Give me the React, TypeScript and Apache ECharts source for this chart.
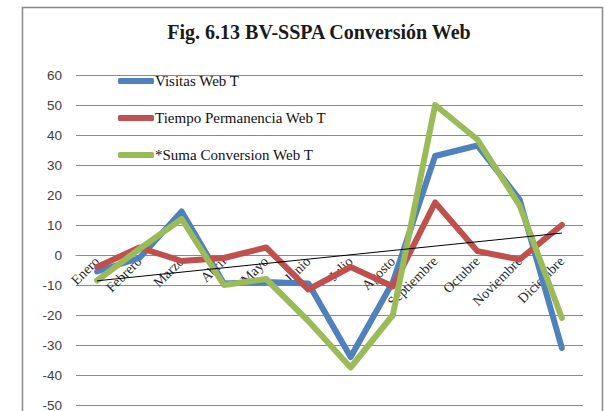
import React, { useEffect, useRef } from "react";
import * as echarts from "echarts";

const months = ["Enero", "Febrero", "Marzo", "Abril", "Mayo", "Junio", "Julio", "Agosto", "Septiembre", "Octubre", "Noviembre", "Diciembre"];
const visitas = [-5.5, -1, 14.5, -9.5, -9, -9.5, -34, -9, 33, 36.5, 18.5, -31];
const tiempo = [-4, 2.5, -2, -1, 2.5, -11.5, -4, -10.5, 17.5, 1.3, -1.5, 10];
const suma = [-8.5, 2, 12, -10, -8, -22, -37.5, -20, 50, 38.5, 16.5, -21];
const trend = [-8.6, null, null, null, null, null, null, null, null, null, null, 7.3];
const yTicks = { min: -50, max: 60, interval: 10 };

const GRID_TOP = 75;
const GRID_H = 330;

export default function App() {
  const ref = useRef<HTMLDivElement>(null);
  useEffect(() => {
    if (!ref.current) return;
    const chart = echarts.init(ref.current, null, { renderer: "svg" });
    const lineSeries = (name: string, data: (number | null)[], color: string) => ({
      name,
      type: "line",
      data,
      symbol: "none",
      lineStyle: { color, width: 6, cap: "round", join: "round" },
      itemStyle: { color },
      z: 3,
    });
    // distance from the bottom of the grid up to the value 0
    const zeroOffset = (GRID_H * (0 - yTicks.min)) / (yTicks.max - yTicks.min);
    chart.setOption({
      animation: false,
      backgroundColor: "#ffffff",
      title: {
        text: "Fig. 6.13 BV-SSPA Conversión Web",
        left: 314,
        textAlign: "center",
        top: 17,
        textStyle: { fontFamily: "Liberation Serif", fontWeight: "bold", fontSize: 20, color: "#1a1a1a" },
      },
      graphic: [
        {
          type: "rect",
          shape: { x: 22.5, y: 7.5, width: 580, height: 420 },
          style: { fill: "none", stroke: "#8a8a8a", lineWidth: 1.5 },
          silent: true,
        },
      ],
      legend: {
        orient: "vertical",
        left: 113,
        top: 68,
        itemGap: 21,
        itemWidth: 36,
        itemHeight: 6,
        icon: "roundRect",
        data: ["Visitas Web T", "Tiempo Permanencia Web T", "*Suma Conversion Web T"],
        textStyle: { fontFamily: "Liberation Serif", fontSize: 15, lineHeight: 16, color: "#111111", padding: [0, 0, 0, -4] },
      },
      grid: { left: 76, right: 22, top: GRID_TOP, height: GRID_H, containLabel: false, outerBoundsMode: "none" },
      xAxis: {
        type: "category",
        data: months,
        boundaryGap: true,
        position: "bottom",
        offset: -zeroOffset,
        axisLine: { show: true, onZero: false, lineStyle: { color: "#8a8a8a", width: 1 } },
        axisTick: { show: false },
        axisLabel: {
          rotate: 45,
          margin: 4,
          interval: 0,
          fontFamily: "Liberation Serif",
          fontSize: 14,
          color: "#2a2a2a",
        },
        splitLine: { show: false },
      },
      yAxis: {
        type: "value",
        min: yTicks.min,
        max: yTicks.max,
        interval: yTicks.interval,
        axisLine: { show: false },
        axisTick: { show: false },
        axisLabel: { margin: 14, fontFamily: "Liberation Sans", fontSize: 13.5, color: "#404040" },
        splitLine: { show: true, lineStyle: { color: "#8a8a8a", width: 1 } },
      },
      series: [
        lineSeries("Visitas Web T", visitas, "#4F81BD"),
        lineSeries("Tiempo Permanencia Web T", tiempo, "#C0504D"),
        lineSeries("*Suma Conversion Web T", suma, "#9BBB59"),
        {
          name: "Lineal (*Suma Conversion Web T)",
          type: "line",
          data: trend,
          connectNulls: true,
          symbol: "none",
          lineStyle: { color: "#000000", width: 1 },
          z: 4,
        },
      ],
    });
    return () => chart.dispose();
  }, []);
  return <div ref={ref} style={{ position: "fixed", left: 0, top: 0, width: 605, height: 411 }} />;
}
